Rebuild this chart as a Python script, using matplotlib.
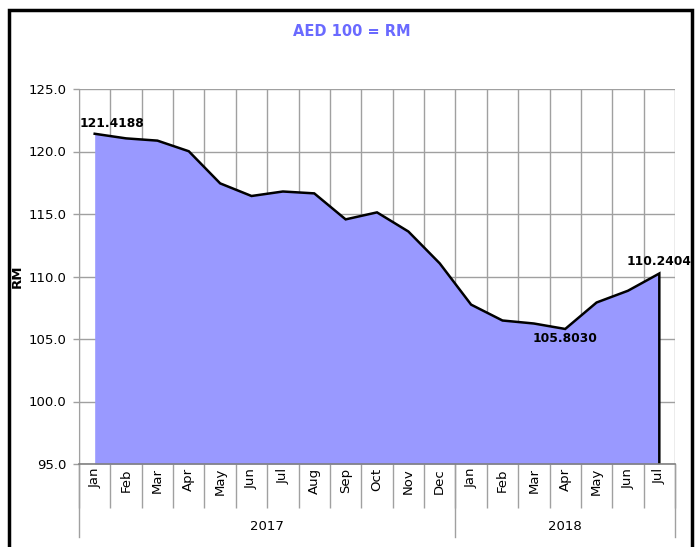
import matplotlib.pyplot as plt
import matplotlib.transforms as mtransforms
from matplotlib.lines import Line2D
from matplotlib.patches import Rectangle
import numpy as np

months = ['Jan', 'Feb', 'Mar', 'Apr', 'May', 'Jun', 'Jul', 'Aug', 'Sep', 'Oct', 'Nov', 'Dec',
          'Jan', 'Feb', 'Mar', 'Apr', 'May', 'Jun', 'Jul']
years = ['2017', '2018']
year_counts = [12, 7]
rates = [121.4188, 121.05, 120.87, 120.02, 117.45, 116.44, 116.80, 116.65, 114.57, 115.13,
         113.60, 111.05, 107.75, 106.48, 106.24, 105.8030, 107.92, 108.86, 110.2404]
labelled = {0: 'above_right', 15: 'below', 18: 'above'}

plt.rcParams['font.family'] = ['DejaVu Sans']

fig = plt.figure(figsize=(6.99, 5.47), dpi=100)
ax = fig.add_axes([79/699, 1 - 464/547, (675 - 79)/699, (464 - 89)/547])

n = len(months)
x = np.arange(n) + 0.5
ymin, ymax = 95, 125
grid_col = '#a0a0a0'

ax.fill_between(x, rates, ymin, color='#9999ff', zorder=2, linewidth=0)
ax.plot(list(x) + [x[-1]], rates + [ymin], color='black', lw=1.8, zorder=3,
        solid_joinstyle='miter')

ax.set_xlim(0, n)
ax.set_ylim(ymin, ymax)
ax.set_yticks(np.arange(ymin, ymax + 1, 5))
ax.set_yticklabels([f'{v:.1f}' for v in np.arange(ymin, ymax + 1, 5)], fontsize=9.5)
ax.set_xticks(np.arange(n + 1))
ax.set_xticklabels([])
ax.tick_params(axis='x', length=31.5, color=grid_col, width=1)
ax.tick_params(axis='y', length=4, color=grid_col, width=1, pad=5)
ax.grid(True, color=grid_col, lw=1, zorder=1)
ax.set_axisbelow(True)
for s in ['top', 'right']:
    ax.spines[s].set_visible(False)
ax.spines['left'].set_color(grid_col)
ax.spines['bottom'].set_color('#808080')
ax.spines['bottom'].set_linewidth(1.2)
ax.spines['bottom'].set_zorder(4)

trans = mtransforms.blended_transform_factory(ax.transData, ax.transAxes)
for i, m in enumerate(months):
    ax.text(x[i], -4/375, m, rotation=90, ha='center', va='top', fontsize=9.5,
            transform=trans)

start = 0
for yr, cnt in zip(years, year_counts):
    ax.text(start + cnt / 2, -63/375, yr, ha='center', va='center', fontsize=9.5,
            transform=trans)
    start += cnt
bounds = np.concatenate([[0], np.cumsum(year_counts)])
for b in bounds:
    ax.add_line(Line2D([b, b], [0, -73/375], color=grid_col, lw=1, transform=trans,
                       clip_on=False))

for i, pos in labelled.items():
    txt = f'{rates[i]:.4f}'
    if pos == 'above_right':
        ax.annotate(txt, (x[i], rates[i]), xytext=(17, 4), textcoords='offset pixels',
                    ha='center', va='bottom', fontsize=8.8, fontweight='bold', zorder=5)
    elif pos == 'below':
        ax.annotate(txt, (x[i], rates[i]), xytext=(0, -3), textcoords='offset pixels',
                    ha='center', va='top', fontsize=8.8, fontweight='bold', zorder=5)
    else:
        ax.annotate(txt, (x[i], rates[i]), xytext=(0, 5), textcoords='offset pixels',
                    ha='center', va='bottom', fontsize=8.8, fontweight='bold', zorder=5)

ax.set_ylabel('RM', fontsize=9.5, fontweight='bold')
ax.yaxis.set_label_coords(-(79 - 24)/596, 0.5)

fig.text(352/699, 1 - 32/547, 'AED 100 = RM', ha='center', va='center', fontsize=10.5,
         fontweight='bold', color='#6a6aff')

fig.patches.append(Rectangle((8.5/699, -0.05), (692 - 8.5)/699, 1.05 - 9.5/547,
                             transform=fig.transFigure, fill=False, edgecolor='black',
                             lw=2.5))

fig.savefig('out.png', dpi=100)
